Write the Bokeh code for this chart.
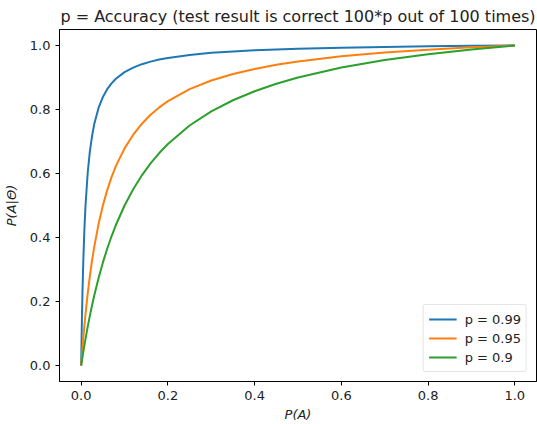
from bokeh.plotting import figure
from bokeh.embed import file_html
from bokeh.resources import INLINE
from bokeh.models import FixedTicker, PrintfTickFormatter, Range1d, Legend, LegendItem

x_vals = [0, 0.001, 0.002, 0.003, 0.005, 0.0075, 0.01, 0.015, 0.02, 0.025, 0.03, 0.04, 0.05, 0.06,
          0.07, 0.08, 0.1, 0.12, 0.14, 0.16, 0.18, 0.2, 0.25, 0.3, 0.35, 0.4, 0.45, 0.5,
          0.6, 0.7, 0.8, 0.9, 1.0]
y_p99 = [0, 0.0902, 0.1656, 0.2297, 0.3322, 0.4279, 0.5, 0.6015, 0.6689, 0.7163, 0.7538, 0.8049,
         0.8390, 0.8634, 0.8817, 0.8959, 0.9167, 0.9310, 0.9416, 0.9496, 0.9560, 0.9612, 0.9706,
         0.9770, 0.9816, 0.9851, 0.9878, 0.99, 0.9933, 0.9957, 0.9975, 0.9989, 1.0]
y_p95 = [0, 0.0187, 0.0367, 0.0541, 0.0872, 0.1257, 0.1610, 0.2244, 0.2794, 0.3276, 0.3701, 0.4419,
         0.5, 0.5481, 0.5885, 0.6230, 0.6786, 0.7212, 0.7556, 0.7835, 0.8066, 0.8261, 0.8636,
         0.8906, 0.9110, 0.9268, 0.9396, 0.95, 0.9661, 0.9779, 0.9870, 0.9942, 1.0]
y_p90 = [0, 0.0089, 0.0177, 0.0264, 0.0433, 0.0637, 0.0833, 0.1206, 0.1552, 0.1875, 0.2177, 0.2727,
         0.3214, 0.3649, 0.4038, 0.4390, 0.5, 0.5510, 0.5943, 0.6316, 0.6639, 0.6923, 0.75,
         0.7941, 0.8289, 0.8571, 0.8804, 0.9, 0.9310, 0.9545, 0.9730, 0.9878, 1.0]
labels = ["p = 0.99", "p = 0.95", "p = 0.9"]
ticks = [0.0, 0.2, 0.4, 0.6, 0.8, 1.0]
colors = ["#1f77b4", "#ff7f0e", "#2ca02c"]

p = figure(width=537, height=424, output_backend="svg", toolbar_location=None,
           x_range=Range1d(-0.05, 1.05), y_range=Range1d(-0.05, 1.05),
           min_border_left=59, min_border_right=1, min_border_top=29, min_border_bottom=40)
p.title.text = "p = Accuracy (test result is correct 100*p out of 100 times)"
p.title.align = "center"
p.title.text_font = "DejaVu Sans"
p.title.text_font_style = "normal"
p.title.text_font_size = "16px"
p.title.text_color = "#222222"
p.title.offset = -2
p.title.standoff = 7

p.xgrid.visible = False
p.ygrid.visible = False
p.outline_line_color = "black"
p.outline_line_width = 1
p.background_fill_color = "white"
p.border_fill_color = "white"

for ax in (p.xaxis[0], p.yaxis[0]):
    ax.ticker = FixedTicker(ticks=ticks)
    ax.formatter = PrintfTickFormatter(format="%.1f")
    ax.major_label_text_font = "DejaVu Sans"
    ax.major_label_text_font_size = "13px"
    ax.major_label_text_color = "#222222"
    ax.axis_label_text_font = "DejaVu Sans"
    ax.axis_label_text_font_size = "13px"
    ax.axis_label_text_font_style = "italic"
    ax.axis_label_text_color = "#222222"
    ax.major_tick_in = 0
    ax.major_tick_out = 4
    ax.minor_tick_in = 0
    ax.minor_tick_out = 0
    ax.axis_line_color = "black"
    ax.major_tick_line_color = "black"
p.xaxis.axis_label = "P(A)"
p.yaxis.axis_label = "P(A|Θ)"
p.xaxis.axis_label_standoff = 4
p.yaxis.axis_label_standoff = 8

renderers = []
for ys, c in zip([y_p99, y_p95, y_p90], colors):
    r = p.line(x_vals, ys, line_color=c, line_width=2)
    renderers.append(r)

legend = Legend(items=[LegendItem(label=l, renderers=[r]) for l, r in zip(labels, renderers)],
                location="bottom_right")
legend.label_text_font = "DejaVu Sans"
legend.label_text_font_size = "13px"
legend.label_text_color = "#222222"
legend.border_line_color = "#cccccc"
legend.border_radius = 3
legend.margin = 9
legend.padding = 5
legend.spacing = 1
legend.glyph_width = 28
legend.glyph_height = 18
legend.label_standoff = 8
p.add_layout(legend)

open("out.html", "w").write(file_html(p, INLINE))
